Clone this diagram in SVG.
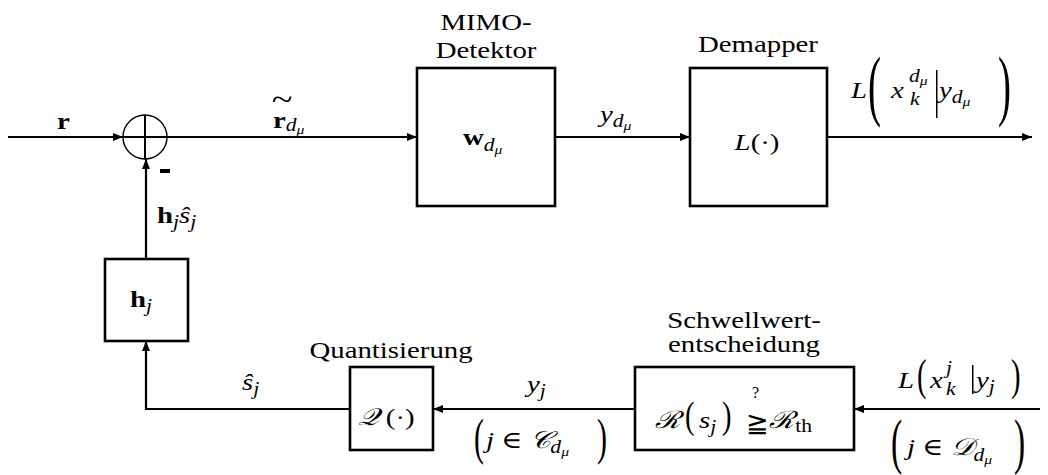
<svg xmlns="http://www.w3.org/2000/svg" width="1048" height="475" viewBox="0 0 1048 475">
<style>
text{font-family:"Liberation Serif","Times New Roman","DejaVu Serif",serif;fill:#000;font-size:24px}
.t{text-anchor:middle}
.i{font-style:italic}
.b{font-weight:bold}
.s{font-size:18px}
.ss{font-size:13px}
.box{fill:#fff;stroke:#000;stroke-width:2.6}
.ln{fill:none;stroke:#000;stroke-width:2.2}
</style>
<defs>
<marker id="ar" viewBox="0 0 10 8" refX="10" refY="4" markerWidth="10" markerHeight="8" markerUnits="userSpaceOnUse" orient="auto">
<path d="M0,0 L10,4 L0,8 z" fill="#000"/>
</marker>
</defs>
<g id="connectors">
<path class="ln" d="M8,137 H123" marker-end="url(#ar)"/>
<path class="ln" d="M167,137 H417" marker-end="url(#ar)"/>
<path class="ln" d="M555,137 H690" marker-end="url(#ar)"/>
<path class="ln" d="M827,137 H1032" marker-end="url(#ar)"/>
<path class="ln" d="M146,259 V159" marker-end="url(#ar)"/>
<path class="ln" d="M350,409 H146 V341" marker-end="url(#ar)"/>
<path class="ln" d="M635,409 H433" marker-end="url(#ar)"/>
<path class="ln" d="M1040,409 H854" marker-end="url(#ar)"/>
</g>
<g id="sum">
<circle cx="145" cy="137" r="22" fill="#fff" stroke="#000" stroke-width="1.4"/>
<path d="M123,137 H167 M145,115 V159" stroke="#000" stroke-width="2"/>
<rect x="160" y="169" width="10" height="4" fill="#000"/>
</g>
<g id="mimo">
<rect class="box" x="417" y="68" width="138" height="138"/>
<text class="t" transform="translate(486 30) scale(1.2 1)">MIMO-</text>
<text class="t" transform="translate(486 58) scale(1.2 1)">Detektor</text>
<text transform="translate(463 145) scale(1.2 1)"><tspan class="b">w</tspan><tspan class="i s" dy="6">d</tspan><tspan class="i ss" dy="3">μ</tspan></text>
</g>
<g id="demapper">
<rect class="box" x="690" y="68" width="137" height="138"/>
<text class="t" transform="translate(758 52) scale(1.2 1)">Demapper</text>
<text class="t" transform="translate(757 150) scale(1.2 1)"><tspan class="i">L</tspan>(·)</text>
</g>
<g id="hj">
<rect class="box" x="105" y="259" width="83" height="82"/>
<text transform="translate(130 307) scale(1.2 1)"><tspan class="b">h</tspan><tspan class="i s" dy="5">j</tspan></text>
</g>
<g id="quant">
<rect class="box" x="350" y="367" width="83" height="83"/>
<text class="t" transform="translate(391 358) scale(1.2 1)">Quantisierung</text>
<text transform="translate(358 425) scale(1.2 1)"><tspan class="i">𝒬</tspan> (·)</text>
</g>
<g id="schwell">
<rect class="box" x="635" y="367" width="219" height="83"/>
<text class="t" transform="translate(744 328) scale(1.2 1)">Schwellwert-</text>
<text class="t" transform="translate(744 352) scale(1.2 1)">entscheidung</text>
<text class="i" transform="translate(655 428) scale(1.2 1)">ℛ</text>
<text style="font-size:38px" transform="translate(685 428) scale(0.75 1)">(</text>
<text transform="translate(699 428) scale(1.2 1)"><tspan class="i">s</tspan><tspan class="i s" dy="5">j</tspan></text>
<text style="font-size:38px" transform="translate(722 428) scale(0.75 1)">)</text>
<text transform="translate(746 432)"><tspan style="font-size:16px" x="6" y="-34">?</tspan><tspan style="font-size:27px" x="0" y="0">≧</tspan></text>
<text transform="translate(769 428) scale(1.2 1)"><tspan class="i">ℛ</tspan><tspan class="s" dx="1" dy="4">th</tspan></text>
</g>
<g id="labels">
<text class="b" transform="translate(57 129) scale(1.2 1)">r</text>
<text transform="translate(157 223) scale(1.2 1)"><tspan class="b">h</tspan><tspan class="i s" dy="5">j</tspan><tspan class="i" dy="-5">ŝ</tspan><tspan class="i s" dy="5">j</tspan></text>
<text transform="translate(273 128) scale(1.2 1)"><tspan style="font-size:32px" x="-1" y="-18">~</tspan><tspan class="b" x="0" y="0">r</tspan><tspan class="i s" dy="3">d</tspan><tspan class="i ss" dy="3">μ</tspan></text>
<text transform="translate(600 122) scale(1.2 1)"><tspan class="i">y</tspan><tspan class="i s" dy="5">d</tspan><tspan class="i ss" dy="3">μ</tspan></text>
<text class="i" transform="translate(851 98) scale(1.2 1)">L</text>
<text style="font-size:78px" transform="translate(868 111) scale(0.5 1)">(</text>
<text class="i" transform="translate(891 98) scale(1.2 1)">x</text>
<text transform="translate(909 82) scale(1.2 1)"><tspan class="i s">d</tspan><tspan class="i ss" dy="3">μ</tspan></text>
<text class="i s" transform="translate(910 105) scale(1.2 1)">k</text>
<rect x="936" y="70" width="1.5" height="48" fill="#000"/>
<text transform="translate(939 98) scale(1.2 1)"><tspan class="i">y</tspan><tspan class="i s" dy="5">d</tspan><tspan class="i ss" dy="3">μ</tspan></text>
<text style="font-size:78px" transform="translate(998 111) scale(0.5 1)">)</text>
<text transform="translate(242 390) scale(1.2 1)"><tspan class="i">ŝ</tspan><tspan class="i s" dy="5">j</tspan></text>
<text transform="translate(527 392) scale(1.2 1)"><tspan class="i">y</tspan><tspan class="i s" dy="5">j</tspan></text>
<text style="font-size:50px" transform="translate(474 454) scale(0.6 1)">(</text>
<text transform="translate(486 448) scale(1.2 1)"><tspan class="i">j</tspan> ∈ <tspan class="i">𝒞</tspan><tspan class="i s" dy="5">d</tspan><tspan class="i ss" dy="3">μ</tspan></text>
<text style="font-size:50px" transform="translate(597 454) scale(0.6 1)">)</text>
<text class="i" transform="translate(898 388) scale(1.2 1)">L</text>
<text style="font-size:44px" transform="translate(917 390) scale(0.65 1)">(</text>
<text class="i" transform="translate(930 388) scale(1.2 1)">x</text>
<text class="i s" transform="translate(946 374) scale(1.2 1)">j</text>
<text class="i s" transform="translate(946 395) scale(1.2 1)">k</text>
<rect x="972" y="365" width="1.5" height="29" fill="#000"/>
<text transform="translate(976 388) scale(1.2 1)"><tspan class="i">y</tspan><tspan class="i s" dy="5">j</tspan></text>
<text style="font-size:44px" transform="translate(1011 390) scale(0.65 1)">)</text>
<text style="font-size:61px" transform="translate(891 462) scale(0.55 1)">(</text>
<text transform="translate(907 455) scale(1.2 1)"><tspan class="i">j</tspan> ∈ <tspan class="i">𝒟</tspan><tspan class="i s" dy="6">d</tspan><tspan class="i ss" dy="3">μ</tspan></text>
<text style="font-size:61px" transform="translate(1014 462) scale(0.55 1)">)</text>
</g>
</svg>
